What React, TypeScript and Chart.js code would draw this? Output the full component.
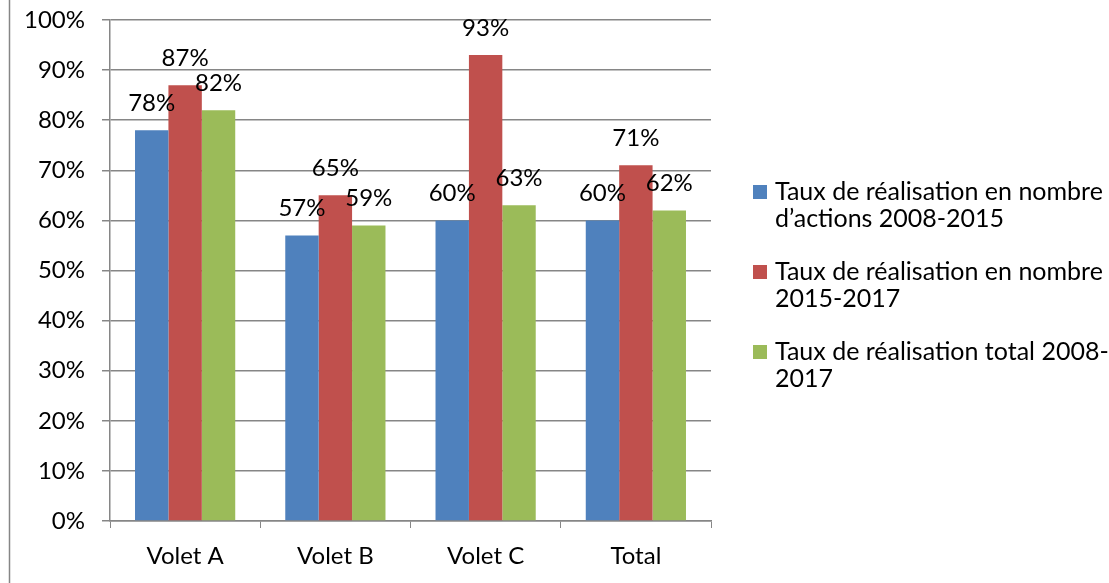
import React, { useEffect, useRef } from "react";
import { Chart, registerables } from "chart.js";

Chart.register(...registerables);

const categories = ["Volet A", "Volet B", "Volet C", "Total"];
const seriesActions0815 = [78, 57, 60, 60];
const seriesNombre1517 = [87, 65, 93, 71];
const seriesTotal0817 = [82, 59, 63, 62];
const seriesNames = [
  ["Taux de réalisation en nombre", "d’actions 2008-2015"],
  ["Taux de réalisation en nombre", "2015-2017"],
  ["Taux de réalisation total 2008-", "2017"],
];
const seriesColors = ["#4F81BD", "#C0504D", "#9BBB59"];
const yMin = 0;
const yMax = 100;
const yStep = 10;

const FONT = "Lato, 'Open Sans', sans-serif";
const FONT_SIZE = 24;
const LEGEND_FONT_SIZE = 25;
const GRID = "#868686";

const bgBorderPlugin = {
  id: "bgBorder",
  beforeDraw(chart: any) {
    const ctx = chart.ctx;
    ctx.save();
    ctx.fillStyle = "#ffffff";
    ctx.fillRect(0, 0, chart.width, chart.height);
    ctx.strokeStyle = GRID;
    ctx.lineWidth = 1.5;
    ctx.beginPath();
    ctx.moveTo(9.5, 0);
    ctx.lineTo(9.5, chart.height);
    ctx.stroke();
    ctx.restore();
  },
};

const valueLabelPlugin = {
  id: "valueLabels",
  afterDatasetsDraw(chart: any) {
    const ctx = chart.ctx;
    ctx.save();
    ctx.font = `${FONT_SIZE}px ${FONT}`;
    ctx.fillStyle = "#000000";
    ctx.textAlign = "center";
    ctx.textBaseline = "middle";
    chart.data.datasets.forEach((ds: any, i: number) => {
      const meta = chart.getDatasetMeta(i);
      meta.data.forEach((bar: any, j: number) => {
        ctx.fillText(`${ds.data[j]}%`, bar.x, bar.y - 27);
      });
    });
    ctx.restore();
  },
};

const sideLegendPlugin = {
  id: "sideLegend",
  afterDraw(chart: any) {
    const ctx = chart.ctx;
    ctx.save();
    ctx.font = `${LEGEND_FONT_SIZE}px ${FONT}`;
    ctx.fillStyle = "#000000";
    ctx.textAlign = "left";
    ctx.textBaseline = "middle";
    const startY = 192;
    const itemGap = 80;
    const lineH = 27;
    chart.data.datasets.forEach((ds: any, i: number) => {
      const y = startY + i * itemGap;
      ctx.fillStyle = ds.backgroundColor;
      ctx.fillRect(753, y - 7, 14, 14);
      ctx.fillStyle = "#000000";
      const lines: string[] = seriesNames[i];
      lines.forEach((t, k) => ctx.fillText(t, 775, y + k * lineH));
    });
    ctx.restore();
  },
};

export default function App() {
  const ref = useRef<HTMLCanvasElement>(null);
  useEffect(() => {
    document.body.style.margin = "0";
    if (!ref.current) return;
    const chart = new Chart(ref.current, {
      type: "bar",
      data: {
        labels: categories,
        datasets: [seriesActions0815, seriesNombre1517, seriesTotal0817].map((d, i) => ({
          label: seriesNames[i].join(" "),
          data: d,
          backgroundColor: seriesColors[i],
          borderWidth: 0,
          categoryPercentage: 0.667,
          barPercentage: 1,
        })),
      },
      options: {
        responsive: false,
        animation: false,
        layout: { padding: { left: 0, right: 398, top: 0, bottom: 0 } },
        plugins: {
          legend: { display: false },
          tooltip: { enabled: false },
        },
        scales: {
          x: {
            grid: {
              display: true,
              drawOnChartArea: false,
              drawTicks: true,
              tickLength: 7,
              color: GRID,
              offset: true,
            },
            border: { display: true, color: GRID, width: 1.5 },
            ticks: {
              color: "#000000",
              font: { family: FONT, size: FONT_SIZE },
              padding: 14,
            },
            afterFit(scale: any) {
              scale.height = 62;
            },
          },
          y: {
            min: yMin,
            max: yMax,
            ticks: {
              stepSize: yStep,
              color: "#000000",
              font: { family: FONT, size: FONT_SIZE },
              padding: 17,
              callback: (v: any) => `${v}%`,
            },
            grid: {
              color: GRID,
              lineWidth: 1.5,
              drawTicks: true,
              tickLength: 8,
            },
            border: { display: true, color: GRID, width: 1.5 },
            afterFit(scale: any) {
              scale.width = 110;
              scale.paddingTop = 20;
              scale.paddingBottom = 0;
            },
          },
        },
      },
      plugins: [bgBorderPlugin, valueLabelPlugin, sideLegendPlugin],
    });
    return () => chart.destroy();
  }, []);
  return (
    <div style={{ width: 1109, height: 583 }}>
      <canvas ref={ref} width={1109} height={583} style={{ width: 1109, height: 583, display: "block" }} />
    </div>
  );
}
